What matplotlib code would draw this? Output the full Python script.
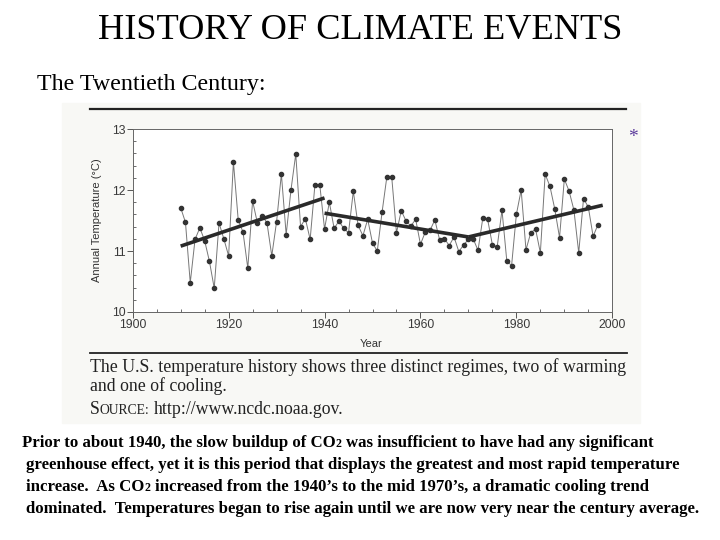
import matplotlib.pyplot as plt
from matplotlib.lines import Line2D
from matplotlib.patches import Rectangle
import numpy as np

# annual US temperature
years = np.arange(1910, 1998)
temps = [
    11.71, 11.47, 10.48, 11.19, 11.38, 11.17, 10.83, 10.39, 11.46, 11.20,
    10.92, 12.46, 11.51, 11.31, 10.72, 11.82, 11.46, 11.58, 11.46, 10.92,
    11.48, 12.26, 11.27, 12.00, 12.59, 11.40, 11.53, 11.19, 12.09, 12.09,
    11.36, 11.80, 11.37, 11.49, 11.37, 11.30, 11.98, 11.42, 11.25, 11.52,
    11.13, 11.00, 11.64, 12.22, 12.22, 11.30, 11.66, 11.49, 11.41, 11.52,
    11.11, 11.31, 11.34, 11.51, 11.18, 11.20, 11.09, 11.23, 10.99, 11.10,
    11.19, 11.20, 11.01, 11.54, 11.52, 11.10, 11.07, 11.67, 10.84, 10.76,
    11.60, 12.00, 11.02, 11.30, 11.36, 10.97, 12.26, 12.06, 11.69, 11.22,
    12.18, 11.98, 11.67, 10.97, 11.86, 11.72, 11.24, 11.43,
]

# three regimes: (start year, start temp, end year, end temp)
trend_x = [[1910, 1940], [1940, 1970], [1970, 1998]]
trend_y = [[11.08, 11.87], [11.62, 11.23], [11.23, 11.75]]

x_ticks = [1900, 1920, 1940, 1960, 1980, 2000]
y_ticks = [10, 11, 12, 13]

title = "HISTORY OF CLIMATE EVENTS"
subtitle = "The Twentieth Century:"
caption = ["The U.S. temperature history shows three distinct regimes, two of warming",
           "and one of cooling."]
source_url = " http://www.ncdc.noaa.gov."

W, H = 720, 540
fig = plt.figure(figsize=(7.2, 5.4), dpi=100)
renderer = fig.canvas.get_renderer()


def fx(x):
    return x / W


def fy(y):
    return 1 - y / H


def text_w(s, **kw):
    t = fig.text(0, 0, s, **kw)
    w = t.get_window_extent(renderer).width
    t.remove()
    return w


def runs(x, y, parts, **kw):
    # parts: list of (string, fontsize); draws them one after another on a baseline
    for s, size in parts:
        lead = len(s) - len(s.lstrip(" "))
        if lead:
            x += lead * (text_w("a a", fontsize=size, **kw) - text_w("aa", fontsize=size, **kw))
            s = s.lstrip(" ")
        fig.text(fx(x), fy(y), s, fontsize=size, va="baseline", ha="left", **kw)
        x += text_w(s, fontsize=size, **kw)


# scanned page background
fig.patches.append(Rectangle((fx(62), fy(423)), fx(640) - fx(62), fy(103) - fy(423),
                             transform=fig.transFigure, color="#f8f8f5", zorder=-5))

fig.text(0.5, fy(39), title, ha="center", va="baseline", fontsize=26.2,
         family="Liberation Serif")
fig.text(fx(37), fy(90), subtitle, ha="left", va="baseline", fontsize=17.3,
         family="Liberation Serif")

fig.lines.append(Line2D([fx(90), fx(626)], [fy(109), fy(109)], transform=fig.transFigure,
                        color="#222222", lw=1.6))
fig.lines.append(Line2D([fx(90), fx(627)], [fy(353), fy(353)], transform=fig.transFigure,
                        color="#222222", lw=1.3))

ax = fig.add_axes([fx(132.7), fy(312), fx(612.3) - fx(132.7), fy(129) - fy(312)])
ax.set_zorder(2)
ax.set_facecolor("white")
ax.plot(years, temps, color="#777777", lw=0.7, marker="o", markersize=3.0,
        markerfacecolor="#333333", markeredgecolor="#333333", zorder=2)
for tx, ty in zip(trend_x, trend_y):
    ax.plot(tx, ty, color="#2a2a2a", lw=2.6, solid_capstyle="butt", zorder=3)

ax.set_xlim(1900, 2000)
ax.set_ylim(10, 13)
ax.set_xticks(x_ticks)
ax.set_yticks(y_ticks)
ax.set_xticks(np.arange(1900, 2001, 5), minor=True)
ax.set_yticks(np.arange(10, 13.01, 0.2), minor=True)
ax.tick_params(which="major", direction="out", length=4, width=0.7, color="#555555",
               labelsize=8.8, labelcolor="#3a3a3a", pad=1)
ax.tick_params(which="minor", direction="in", length=2.5, width=0.6, color="#555555")
for s in ax.spines.values():
    s.set_color("#666666")
    s.set_linewidth(0.7)
for lab in ax.get_xticklabels() + ax.get_yticklabels():
    lab.set_family("Liberation Sans")

ax.set_xlabel("Year", fontsize=8, color="#333333", family="Liberation Sans")
ax.set_ylabel("Annual Temperature (°C)", fontsize=8, color="#333333", family="Liberation Sans")
ax.xaxis.set_label_coords(0.497, -0.145)
ax.yaxis.set_label_coords(-0.063, 0.503)

fig.text(fx(633), fy(137), "*", ha="center", va="center", fontsize=14,
         color="#5b3b9b", family="Liberation Serif")

# caption of the scanned figure
cap_kw = dict(family="Liberation Serif", color="#222222")
runs(90, 372, [(caption[0], 12.8)], **cap_kw)
runs(90, 391, [(caption[1], 12.8)], **cap_kw)
runs(90, 414, [("S", 12.8), ("OURCE:", 9.8), (source_url, 12.8)], **cap_kw)

# paragraph below
p_kw = dict(family="Liberation Serif", weight="bold", color="black")
big, small = 12.1, 8.6
runs(22, 447, [("Prior to about 1940, the slow buildup of CO", big), ("2", small),
               (" was insufficient to have had any significant", big)], **p_kw)
runs(22, 469, [(" greenhouse effect, yet it is this period that displays the greatest and most rapid temperature", big)], **p_kw)
runs(22, 491, [(" increase.  As CO", big), ("2", small),
               (" increased from the 1940\u2019s to the mid 1970\u2019s, a dramatic cooling trend", big)], **p_kw)
runs(22, 513, [(" dominated.  Temperatures began to rise again until we are now very near the century average.", big)], **p_kw)

fig.savefig("out.png", dpi=100)
